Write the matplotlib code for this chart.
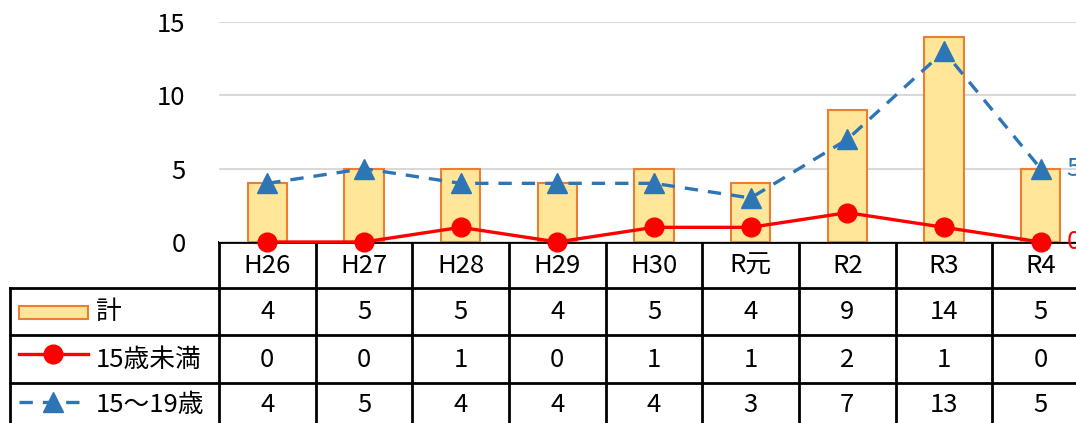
import matplotlib
matplotlib.use("Agg")
import matplotlib.pyplot as plt
from matplotlib.patches import Rectangle

plt.rcParams['font.family'] = ['Noto Sans CJK JP', 'DejaVu Sans']

categories = ["H26", "H27", "H28", "H29", "H30", "R元", "R2", "R3", "R4"]
total = [4, 5, 5, 4, 5, 4, 9, 14, 5]
under15 = [0, 0, 1, 0, 1, 1, 2, 1, 0]
age15_19 = [4, 5, 4, 4, 4, 3, 7, 13, 5]
series_names = ["計", "15歳未満", "15～19歳"]
yticks = [0, 5, 10, 15]

BAR_FACE = "#FFE699"
BAR_EDGE = "#ED7D31"
RED = "#FF0000"
BLUE = "#2E75B6"
FS = 18.5

W, H = 1076, 423
fig = plt.figure(figsize=(W / 100, H / 100), dpi=100)

# main plot area (extends past the right edge, as in the reference)
left_px, right_px = 219, 1089
top_px, base_px = 22, 242
ax = fig.add_axes([left_px / W, (H - base_px) / H, (right_px - left_px) / W, (base_px - top_px) / H])
x = list(range(len(categories)))
ax.bar(x, total, width=0.41, color=BAR_FACE, edgecolor=BAR_EDGE, linewidth=1.5, zorder=2)
ax.plot(x, under15, color=RED, lw=2.4, marker="o", ms=13.5, zorder=4, clip_on=False)
ax.plot(x, age15_19, color=BLUE, lw=2.4, ls=(0, (4, 3)), marker="^", ms=14, zorder=3, clip_on=False)
ax.set_xlim(-0.5, len(categories) - 0.5)
ax.set_ylim(0, 15)
ax.set_yticks(yticks)
ax.set_yticklabels([str(v) for v in yticks], fontsize=FS)
ax.tick_params(axis="y", length=0, pad=24)
ax.set_xticks([])
ax.grid(axis="y", color="#D9D9D9", lw=1.5, zorder=0)
for s in ax.spines.values():
    s.set_visible(False)
ax.text(len(categories) - 1 + 0.27, age15_19[-1], str(age15_19[-1]), color=BLUE,
        fontsize=FS, va="center", ha="left", clip_on=False)
ax.text(len(categories) - 1 + 0.27, under15[-1], str(under15[-1]), color=RED,
        fontsize=FS, va="center", ha="left", clip_on=False)

# data table axes: x in category units, y in pixel rows from top
col_w = (right_px - left_px) / len(categories)
tbl_left_px = 9.5
legend_w = (left_px - tbl_left_px) / col_w
x0 = -0.5 - legend_w
xr = len(categories) - 0.5
tx = fig.add_axes([tbl_left_px / W, 0, (right_px - tbl_left_px) / W, (H - base_px) / H])
tx.set_xlim(x0, xr)
tx.set_ylim(H, base_px)
tx.axis("off")
tx.set_zorder(-1)

row_lines = [287.5, 335, 383]
lw = 2.0
tx.plot([-0.5, xr], [base_px, base_px], color="black", lw=lw, clip_on=False)
for y in row_lines:
    tx.plot([x0, xr], [y, y], color="black", lw=lw, clip_on=False, solid_capstyle="projecting")
for k in range(len(categories) + 1):
    tx.plot([k - 0.5, k - 0.5], [base_px, H], color="black", lw=lw, clip_on=False)
tx.plot([x0, x0], [row_lines[0], H], color="black", lw=lw, clip_on=False, solid_capstyle="projecting")

hdr_y = (base_px + row_lines[0]) / 2 + 1
for i, c in enumerate(categories):
    tx.text(i, hdr_y, c, fontsize=FS, ha="center", va="center")
row_y = [(row_lines[0] + row_lines[1]) / 2 + 1, (row_lines[1] + row_lines[2]) / 2 + 1, 405]
for vals, y in zip([total, under15, age15_19], row_y):
    for i, v in enumerate(vals):
        tx.text(i, y, str(v), fontsize=FS, ha="center", va="center")

# legend keys in first column
px = 1 / col_w
kx0, kx1 = x0 + 9 * px, x0 + 78 * px
kmid = (kx0 + kx1) / 2
tx.add_patch(Rectangle((kx0, row_y[0] - 6.5), kx1 - kx0, 13, facecolor=BAR_FACE,
                       edgecolor=BAR_EDGE, lw=1.5))
tx.plot([kx0, kx1], [row_y[1] - 6, row_y[1] - 6], color=RED, lw=2.4)
tx.plot([kmid], [row_y[1] - 6], color=RED, marker="o", ms=13.5)
tx.plot([kx0, kx1], [row_y[2] - 3, row_y[2] - 3], color=BLUE, lw=2.4, ls=(0, (4, 3)))
tx.plot([kmid], [row_y[2] - 3], color=BLUE, marker="^", ms=14)
for name, y in zip(series_names, row_y):
    tx.text(x0 + 86 * px, y, name, fontsize=FS, ha="left", va="center")

fig.savefig("out.png", dpi=100)
